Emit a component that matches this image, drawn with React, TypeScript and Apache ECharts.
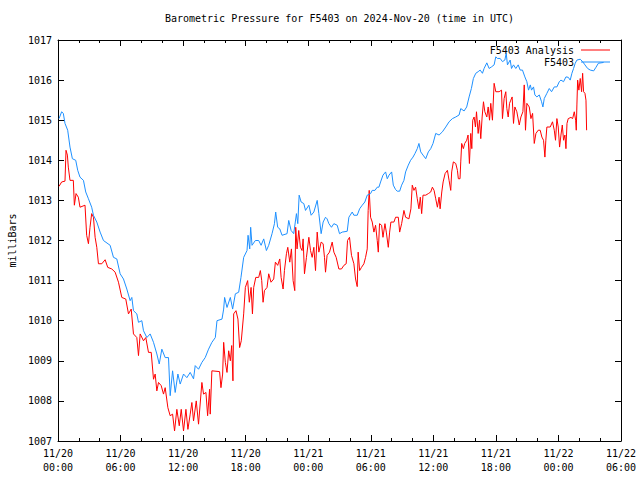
import { useEffect, useRef } from "react";
import * as echarts from "echarts";

const chartTitle = "Barometric Pressure for F5403 on 2024-Nov-20 (time in UTC)";
const yAxisName = "milliBars";
const seriesNames = ["F5403 Analysis", "F5403"];
const seriesColors = ["#ff0000", "#1e90ff"];
const startMonth = 11;
const startDay = 20;
const xMin = 0;
const xMax = 54;
const xStep = 6;
const yMin = 1007;
const yMax = 1017;

// [hours since 11/20 00:00 UTC, millibars]
const analysisData: [number, number][] = [
  [0.1, 1013.35], [0.35, 1013.46], [0.67, 1013.48], [0.77, 1014.25], [0.9, 1014.13], [0.99, 1013.83],
  [1.15, 1013.5], [1.47, 1013.5], [1.57, 1012.88], [1.73, 1013.17], [1.95, 1013.08], [2.11, 1012.83],
  [2.59, 1012.88], [2.75, 1012.13], [2.92, 1011.92], [3.07, 1012.33], [3.23, 1012.67], [3.4, 1012.58],
  [3.56, 1012.08], [3.72, 1011.83], [3.88, 1011.42], [4.2, 1011.42], [4.52, 1011.52], [4.77, 1011.33],
  [5.16, 1011.29], [5.48, 1011.21], [5.8, 1010.96], [6.12, 1010.58], [6.5, 1010.54], [6.76, 1010.17],
  [7.02, 1010.29], [7.24, 1009.67], [7.56, 1009.58], [7.72, 1009.13], [7.88, 1009.67], [8.2, 1009.5],
  [8.42, 1009.58], [8.68, 1009.21], [8.94, 1009.21], [9.16, 1008.54], [9.32, 1008.67], [9.48, 1008.25],
  [9.64, 1008.46], [9.9, 1008.38], [10.12, 1008.17], [10.28, 1008.33], [10.54, 1007.83], [10.76, 1007.63],
  [10.99, 1007.67], [11.18, 1007.25], [11.4, 1007.79], [11.63, 1007.38], [11.82, 1007.79], [12.04, 1007.25],
  [12.27, 1007.79], [12.46, 1007.29],
  [12.68, 1007.67], [12.84, 1007.96], [13.0, 1007.5], [13.26, 1008.0], [13.48, 1007.42], [13.8, 1008.46],
  [13.96, 1008.17], [14.19, 1008.21], [14.35, 1007.63], [14.54, 1008.29], [14.6, 1007.67], [14.76, 1008.75],
  [15.5, 1008.73], [15.63, 1008.33], [15.79, 1008.67], [15.89, 1009.46], [16.05, 1008.96], [16.21, 1008.71],
  [16.37, 1009.25], [16.53, 1009.0], [16.66, 1009.38], [16.78, 1008.5], [16.85, 1010.17], [17.07, 1010.25],
  [17.26, 1010.04], [17.42, 1009.33], [17.58, 1009.5], [17.81, 1010.17], [17.97, 1010.83], [18.19, 1011.0],
  [18.35, 1010.46], [18.52, 1010.83], [18.65, 1010.17], [18.77, 1010.83], [18.97, 1011.08], [19.25, 1011.08],
  [19.41, 1011.25], [19.54, 1011.0], [19.67, 1010.46], [19.8, 1010.75], [20.05, 1010.83], [20.21, 1011.17],
  [20.43, 1010.96], [20.69, 1011.04], [20.85, 1011.46], [21.07, 1011.38], [21.27, 1011.54], [21.4, 1011.08],
  [21.59, 1010.79], [21.72, 1011.25], [21.91, 1011.67], [22.04, 1011.83], [22.23, 1011.46], [22.39, 1011.79],
  [22.55, 1011.0], [22.71, 1010.75], [22.8, 1012.33], [22.93, 1011.79], [23.09, 1012.25], [23.25, 1011.83],
  [23.41, 1011.75], [23.51, 1012.04], [23.64, 1011.17], [23.83, 1011.58], [24.06, 1012.08], [24.22, 1011.75],
  [24.38, 1011.58], [24.54, 1011.83], [24.7, 1011.25], [24.86, 1012.21], [25.02, 1011.71], [25.24, 1011.96],
  [25.43, 1011.92], [25.56, 1011.58],
  [25.66, 1011.21], [25.81, 1011.63], [26.04, 1011.71], [26.3, 1011.96], [26.46, 1011.71], [26.68, 1011.58],
  [26.94, 1011.29], [27.19, 1011.29], [27.42, 1011.38], [27.64, 1011.42], [27.77, 1012.0], [27.96, 1012.08],
  [28.15, 1011.63], [28.38, 1011.42], [28.54, 1011.04], [28.7, 1010.85], [28.79, 1011.71], [28.93, 1011.25],
  [29.11, 1011.33], [29.34, 1011.42], [29.5, 1011.58], [29.66, 1011.79], [29.75, 1012.75], [29.85, 1013.25],
  [29.98, 1012.58], [30.14, 1012.46], [30.3, 1012.21], [30.46, 1012.38], [30.62, 1012.0], [30.72, 1011.71],
  [30.84, 1012.42], [31.04, 1012.38], [31.17, 1012.08], [31.36, 1012.42], [31.49, 1012.21], [31.68, 1011.83],
  [31.81, 1012.21], [31.93, 1012.46], [32.22, 1012.46], [32.38, 1012.58], [32.64, 1012.58], [32.77, 1012.21],
  [32.96, 1012.42], [33.18, 1012.75], [33.34, 1012.58], [33.66, 1012.54], [33.85, 1012.79], [33.98, 1013.38],
  [34.14, 1013.25], [34.3, 1013.33], [34.46, 1013.04], [34.62, 1012.79], [34.75, 1013.08], [34.88, 1012.67],
  [35.01, 1013.13], [35.27, 1013.13], [35.52, 1013.17], [35.75, 1013.21], [35.91, 1013.33], [36.07, 1013.25],
  [36.23, 1013.04], [36.39, 1012.83], [36.55, 1013.08], [36.65, 1012.79], [36.81, 1013.21], [36.94, 1013.46],
  [37.13, 1013.67], [37.35, 1013.75], [37.51, 1013.5], [37.67, 1013.25], [37.76, 1013.71], [37.92, 1013.96],
  [38.15, 1013.92], [38.31, 1013.75], [38.4, 1013.54], [38.56, 1013.54],
  [38.63, 1013.96], [38.72, 1014.42], [38.88, 1014.29], [39.01, 1014.42], [39.2, 1014.5], [39.33, 1014.63],
  [39.46, 1013.92], [39.59, 1014.67], [39.69, 1014.29], [39.78, 1015.0], [39.91, 1015.08], [40.04, 1014.83],
  [40.14, 1015.21], [40.3, 1014.67], [40.43, 1015.0], [40.55, 1014.54], [40.68, 1015.08], [40.81, 1015.46],
  [40.94, 1015.21], [41.13, 1015.08], [41.26, 1015.33], [41.39, 1015.0], [41.51, 1015.42], [41.67, 1015.0],
  [41.83, 1015.92], [41.99, 1015.71], [42.31, 1015.71], [42.54, 1015.75], [42.63, 1015.04], [42.79, 1015.54],
  [42.95, 1015.71], [43.05, 1015.29], [43.18, 1015.08], [43.31, 1015.42], [43.43, 1015.5], [43.56, 1015.58],
  [43.69, 1014.92], [43.82, 1015.33], [44.01, 1015.21], [44.24, 1014.88], [44.4, 1015.08], [44.59, 1015.21],
  [44.72, 1015.88], [44.84, 1014.75], [44.97, 1015.42], [45.2, 1015.33], [45.36, 1015.04], [45.52, 1015.17],
  [45.68, 1014.42], [45.84, 1014.67], [46.06, 1014.75], [46.25, 1014.75], [46.41, 1014.58], [46.57, 1014.5],
  [46.7, 1014.08], [46.79, 1014.5], [46.89, 1014.83], [47.21, 1014.83], [47.43, 1014.96], [47.6, 1014.75],
  [47.72, 1014.5], [47.85, 1015.04], [47.98, 1014.83], [48.11, 1014.33], [48.24, 1014.63], [48.37, 1014.88],
  [48.49, 1014.5], [48.62, 1014.63], [48.72, 1014.29], [48.82, 1014.92], [48.94, 1015.04], [49.2, 1015.07],
  [49.36, 1015.04], [49.52, 1015.21], [49.65, 1015.0], [49.71, 1014.75], [49.77, 1015.38], [49.84, 1016.0],
  [49.96, 1015.75], [50.09, 1016.04], [50.22, 1015.71], [50.32, 1016.17], [50.41, 1015.71], [50.54, 1015.67],
  [50.64, 1015.5], [50.7, 1014.75],
];

const observedData: [number, number][] = [
  [0.1, 1015.04], [0.35, 1015.21], [0.51, 1015.17], [0.67, 1014.92], [0.93, 1014.75], [1.15, 1014.33],
  [1.38, 1014.04], [1.7, 1014.0], [1.89, 1013.75], [2.11, 1013.58], [2.44, 1013.5], [2.66, 1013.21],
  [2.92, 1013.04], [3.23, 1012.83], [3.4, 1012.63], [3.72, 1012.46], [4.04, 1012.21], [4.36, 1012.0],
  [5.0, 1011.88], [5.32, 1011.58], [5.64, 1011.54], [5.96, 1011.17], [6.28, 1011.04], [6.6, 1010.79],
  [6.92, 1010.5], [7.08, 1010.58], [7.24, 1010.25], [7.56, 1010.17], [7.72, 1009.96], [8.04, 1010.0],
  [8.2, 1009.75], [8.52, 1009.58], [8.84, 1009.67], [9.16, 1009.46], [9.48, 1009.17], [9.71, 1008.92],
  [9.96, 1009.29], [10.28, 1009.08], [10.6, 1009.08], [10.76, 1008.13], [10.99, 1008.75], [11.24, 1008.21],
  [11.5, 1008.67], [11.72, 1008.42], [12.04, 1008.67], [12.36, 1008.58], [12.68, 1008.71], [13.0, 1008.55],
  [13.16, 1008.88], [13.48, 1008.79], [13.8, 1008.96], [14.12, 1009.08], [14.44, 1009.29], [14.76, 1009.46],
  [15.09, 1009.58], [15.25, 1010.0], [15.73, 1010.04], [15.89, 1010.29], [15.98, 1010.58], [16.21, 1010.33],
  [16.53, 1010.58], [16.75, 1010.29], [17.01, 1010.67], [17.33, 1010.71], [17.55, 1011.08], [17.81, 1011.58],
  [18.13, 1011.75], [18.23, 1012.13], [18.39, 1011.79], [18.48, 1012.33], [18.61, 1011.88], [18.93, 1012.0],
  [19.25, 1012.0], [19.48, 1011.88], [19.73, 1012.04], [19.99, 1011.75], [20.21, 1011.88], [20.53, 1012.17],
  [20.76, 1012.42], [20.88, 1012.71], [21.07, 1012.33], [21.27, 1012.29], [21.49, 1012.13], [21.97, 1012.17],
  [22.13, 1012.5], [22.36, 1012.25], [22.61, 1012.17], [22.87, 1012.67], [23.0, 1012.42], [23.13, 1013.13],
  [23.32, 1012.96], [23.58, 1012.92], [23.74, 1012.75], [24.06, 1012.88], [24.28, 1012.63], [24.54, 1012.71],
  [24.86, 1013.0], [25.02, 1012.67], [25.24, 1012.17], [25.43, 1012.46],
  [25.66, 1012.58], [25.81, 1012.54], [25.98, 1012.42], [26.23, 1012.33], [26.46, 1012.42], [26.78, 1012.38],
  [27.0, 1012.17], [27.26, 1012.21], [27.74, 1012.23], [27.9, 1012.58], [28.22, 1012.71], [28.38, 1012.63],
  [28.7, 1012.63], [28.93, 1012.79], [29.18, 1012.88], [29.43, 1012.96], [29.66, 1013.13], [29.98, 1013.17],
  [30.14, 1013.25], [30.4, 1013.25], [30.62, 1013.33], [30.78, 1013.33], [30.94, 1013.46], [31.17, 1013.63],
  [31.42, 1013.71], [31.58, 1013.54], [31.75, 1013.63], [32.0, 1013.71], [32.16, 1013.38], [32.38, 1013.27],
  [32.54, 1013.23], [32.77, 1013.23], [32.96, 1013.38], [33.18, 1013.5], [33.34, 1013.71], [33.6, 1013.88],
  [33.82, 1014.0], [34.05, 1014.08], [34.24, 1014.17], [34.46, 1014.29], [34.62, 1014.42], [34.79, 1014.21],
  [35.01, 1014.13], [35.27, 1014.04], [35.52, 1014.21], [35.75, 1014.29], [35.97, 1014.42], [36.23, 1014.67],
  [36.55, 1014.63], [36.87, 1014.71], [37.19, 1014.83], [37.51, 1014.96], [37.83, 1015.04], [38.15, 1015.08],
  [38.47, 1015.13],
  [38.63, 1015.29], [38.95, 1015.23], [39.2, 1015.33], [39.43, 1015.58], [39.65, 1015.79], [39.84, 1016.04],
  [40.07, 1016.17], [40.3, 1016.21], [40.49, 1016.25], [40.71, 1016.17], [40.87, 1016.29], [41.13, 1016.43],
  [41.35, 1016.29], [41.58, 1016.33], [41.83, 1016.38], [41.99, 1016.58], [42.15, 1016.54], [42.41, 1016.54],
  [42.63, 1016.46], [42.86, 1016.5], [42.99, 1016.67], [43.11, 1016.38], [43.37, 1016.5], [43.5, 1016.29],
  [43.69, 1016.38], [43.91, 1016.29], [44.14, 1016.38], [44.33, 1016.25], [44.55, 1016.25], [44.78, 1016.08],
  [44.97, 1015.96], [45.13, 1015.75], [45.3, 1015.88], [45.42, 1015.75], [45.61, 1015.83], [45.74, 1015.63],
  [45.93, 1015.58], [46.16, 1015.63], [46.38, 1015.46], [46.51, 1015.33], [46.64, 1015.54], [46.89, 1015.67],
  [47.12, 1015.79], [47.34, 1015.71], [47.6, 1015.83], [47.85, 1015.83], [48.08, 1015.96], [48.24, 1016.0],
  [48.49, 1015.96], [48.72, 1016.08], [48.94, 1016.07], [49.13, 1016.0], [49.29, 1016.17], [49.45, 1016.29],
  [49.61, 1016.42], [49.77, 1016.5], [50.09, 1016.52], [50.32, 1016.46], [50.54, 1016.38], [50.8, 1016.29],
  [51.05, 1016.25], [51.38, 1016.23], [51.6, 1016.32], [51.83, 1016.42], [52.08, 1016.43], [52.33, 1016.44],
];

const FONT = "'DejaVu Sans Mono', 'Liberation Mono', monospace";

function formatTime(v: number): string {
  const day = startDay + Math.floor(v / 24);
  const hour = Math.round(v % 24);
  return `${startMonth}/${day}\n${String(hour).padStart(2, "0")}:00`;
}

export default function App() {
  const ref = useRef<HTMLDivElement>(null);

  useEffect(() => {
    document.body.style.margin = "0";
    if (!ref.current) return;
    const chart = echarts.init(ref.current, null, { renderer: "svg" });

    const gridLeft = 58;
    const gridRight = 19;
    const gridTop = 40;
    const gridBottom = 39;
    const plotRight = 640 - gridRight;
    const legendTextX = plotRight - 47;
    const legendLineX1 = plotRight - 40;
    const legendLineX2 = plotRight - 11;

    const tickStyle = { color: "#000", width: 1 };
    const baseX = {
      type: "value" as const,
      min: xMin,
      max: xMax,
      interval: xStep,
      splitLine: { show: false },
      axisLine: { show: true, onZero: false, lineStyle: { color: "#000", width: 1 } },
      axisTick: { show: true, inside: true, length: 6, lineStyle: tickStyle },
      minorTick: { show: true, splitNumber: 3, length: 3, lineStyle: tickStyle },
    };
    const baseY = {
      type: "value" as const,
      min: yMin,
      max: yMax,
      interval: 1,
      splitLine: { show: false },
      axisLine: { show: true, onZero: false, lineStyle: { color: "#000", width: 1 } },
      axisTick: { show: true, inside: true, length: 6, lineStyle: tickStyle },
    };

    chart.setOption({
      animation: false,
      backgroundColor: "#ffffff",
      title: {
        text: chartTitle,
        left: (gridLeft + plotRight) / 2,
        textAlign: "center",
        top: 13,
        padding: 0,
        textStyle: { fontFamily: FONT, fontSize: 10, fontWeight: "normal", color: "#000" },
      },
      grid: {
        left: gridLeft,
        right: gridRight,
        top: gridTop,
        bottom: gridBottom,
        containLabel: false,
        outerBoundsMode: "none",
      },
      xAxis: [
        {
          ...baseX,
          position: "bottom",
          axisLabel: {
            show: true,
            formatter: formatTime,
            fontFamily: FONT,
            fontSize: 10,
            color: "#000",
            lineHeight: 14,
            margin: 5,
            showMinLabel: true,
            showMaxLabel: true,
          },
        },
        { ...baseX, position: "top", axisLabel: { show: false } },
      ],
      yAxis: [
        {
          ...baseY,
          position: "left",
          name: yAxisName,
          nameLocation: "middle",
          nameGap: 41,
          nameRotate: 90,
          nameTextStyle: { fontFamily: FONT, fontSize: 10, color: "#000" },
          axisLabel: {
            show: true,
            fontFamily: FONT,
            fontSize: 10,
            color: "#000",
            margin: 6,
            formatter: (v: number) => String(v),
          },
        },
        { ...baseY, position: "right", axisLabel: { show: false } },
      ],
      series: [
        {
          name: seriesNames[0],
          type: "line",
          data: analysisData,
          showSymbol: false,
          symbol: "none",
          lineStyle: { color: seriesColors[0], width: 1 },
          itemStyle: { color: seriesColors[0] },
          xAxisIndex: 0,
          yAxisIndex: 0,
          silent: true,
        },
        {
          name: seriesNames[1],
          type: "line",
          data: observedData,
          showSymbol: false,
          symbol: "none",
          lineStyle: { color: seriesColors[1], width: 1 },
          itemStyle: { color: seriesColors[1] },
          xAxisIndex: 0,
          yAxisIndex: 0,
          silent: true,
        },
      ],
      graphic: [
        {
          type: "text",
          x: legendTextX,
          y: 50,
          style: {
            text: seriesNames[0],
            fill: "#000",
            font: `10px ${FONT}`,
            textAlign: "right",
            textVerticalAlign: "middle",
          },
        },
        {
          type: "line",
          shape: { x1: legendLineX1, y1: 50, x2: legendLineX2, y2: 50 },
          style: { stroke: seriesColors[0], lineWidth: 1 },
        },
        {
          type: "text",
          x: legendTextX,
          y: 62,
          style: {
            text: seriesNames[1],
            fill: "#000",
            font: `10px ${FONT}`,
            textAlign: "right",
            textVerticalAlign: "middle",
          },
        },
        {
          type: "line",
          shape: { x1: legendLineX1, y1: 62, x2: legendLineX2, y2: 62 },
          style: { stroke: seriesColors[1], lineWidth: 1 },
        },
      ],
    });

    return () => chart.dispose();
  }, []);

  return <div ref={ref} style={{ width: 640, height: 480 }} />;
}
